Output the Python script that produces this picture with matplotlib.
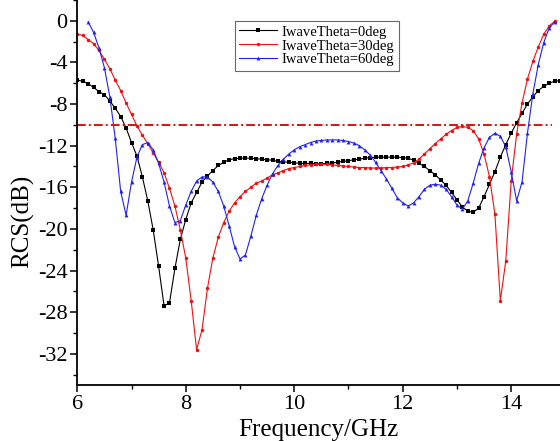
import matplotlib
matplotlib.use("Agg")
import matplotlib.pyplot as plt
from matplotlib.ticker import MultipleLocator

plt.rcParams["font.family"] = ["Liberation Serif", "DejaVu Serif"]
plt.rcParams["axes.unicode_minus"] = False

# frequency grid (GHz)
freq = [6.0, 6.1, 6.2, 6.3, 6.4, 6.5, 6.6, 6.7, 6.8, 6.9,
        7.0, 7.1, 7.2, 7.3, 7.4, 7.5, 7.6, 7.7, 7.8, 7.9,
        8.0, 8.1, 8.2, 8.3, 8.4, 8.5, 8.6, 8.7, 8.8, 8.9,
        9.0, 9.1, 9.2, 9.3, 9.4, 9.5, 9.6, 9.7, 9.8, 9.9,
        10.0, 10.1, 10.2, 10.3, 10.4, 10.5, 10.6, 10.7, 10.8, 10.9,
        11.0, 11.1, 11.2, 11.3, 11.4, 11.5, 11.6, 11.7, 11.8, 11.9,
        12.0, 12.1, 12.2, 12.3, 12.4, 12.5, 12.6, 12.7, 12.8, 12.9,
        13.0, 13.1, 13.2, 13.3, 13.4, 13.5, 13.6, 13.7, 13.8, 13.9,
        14.0, 14.1, 14.2, 14.3, 14.4, 14.5, 14.6, 14.7, 14.8, 14.9]

# theta = 0 deg, 6.0 .. 14.9 GHz
rcs_0deg = [-5.7, -5.8, -6.05, -6.4, -6.8, -7.1, -7.7, -8.4, -9.2, -10.3,
            -11.7, -13.0, -15.0, -17.3, -20.1, -23.6, -27.4, -27.1, -23.8, -21.0,
            -19.1, -17.5, -16.5, -15.5, -14.9, -14.4, -13.9, -13.6, -13.35, -13.25,
            -13.2, -13.2, -13.2, -13.25, -13.3, -13.35, -13.4, -13.5, -13.55, -13.6,
            -13.65, -13.7, -13.7, -13.7, -13.75, -13.75, -13.7, -13.65, -13.6, -13.5,
            -13.45, -13.35, -13.3, -13.2, -13.15, -13.1, -13.1, -13.1, -13.1, -13.1,
            -13.15, -13.2, -13.4, -13.7, -14.0, -14.4, -14.8, -15.3, -15.8, -16.5,
            -17.2, -17.9, -18.3, -18.4, -18.0, -16.9, -15.7, -14.5, -13.1, -11.9,
            -10.8, -9.8, -8.9, -8.0, -7.3, -6.7, -6.3, -6.0, -5.8, -5.75]

# theta = 30 deg, 6.0 .. 14.8 GHz
rcs_30deg = [-1.3, -1.4, -1.8, -2.2, -2.85, -3.7, -4.6, -5.7, -6.7, -7.9,
             -9.0, -10.1, -11.0, -11.8, -12.7, -13.6, -14.6, -16.1, -17.8, -20.1,
             -22.8, -26.9, -31.6, -29.7, -25.7, -22.8, -20.8, -19.4, -18.3, -17.5,
             -16.9, -16.4, -16.0, -15.6, -15.4, -15.1, -14.8, -14.6, -14.4, -14.2,
             -14.1, -14.0, -13.9, -13.85, -13.8, -13.8, -13.8, -13.85, -13.9, -13.95,
             -14.0, -14.05, -14.1, -14.1, -14.15, -14.15, -14.15, -14.1, -14.1, -14.05,
             -14.0, -13.85, -13.65, -13.3, -12.8, -12.3, -11.8, -11.35, -10.9, -10.55,
             -10.25, -10.15, -10.25, -10.55, -11.35, -12.8, -15.0, -18.6, -26.9, -23.1,
             -15.4, -10.9, -7.9, -5.6, -3.9, -2.5, -1.3, -0.5, -0.05]

# theta = 60 deg, 6.2 .. 14.8 GHz
rcs_60deg = [-0.1, -1.1, -2.6, -4.5, -7.3, -11.3, -16.4, -18.7,
             -15.5, -13.1, -11.9, -11.7, -12.4, -13.7, -15.5, -17.8, -19.4, -19.2,
             -17.7, -16.4, -15.4, -15.0, -15.0, -15.5, -16.4, -17.8, -19.7, -21.7,
             -22.9, -22.5, -20.7, -18.7, -17.1, -15.8, -14.7, -13.9, -13.3, -12.8,
             -12.4, -12.1, -11.9, -11.7, -11.55, -11.5, -11.45, -11.45, -11.45, -11.5,
             -11.6, -11.75, -12.0, -12.4, -12.9, -13.6, -14.4, -15.2, -16.1, -17.0,
             -17.5, -17.8, -17.5, -16.9, -16.2, -15.8, -15.7, -15.8, -16.2, -16.9,
             -17.7, -18.1, -17.3, -15.6, -13.7, -12.2, -11.2, -10.8, -11.1, -12.1,
             -14.5, -17.3, -15.5, -10.8, -7.0, -4.2, -2.1, -0.7, -0.1]

labels = ["IwaveTheta=0deg", "IwaveTheta=30deg", "IwaveTheta=60deg"]
threshold = -10
threshold_span = [6.0, 14.75]

fig = plt.figure(figsize=(5.6, 4.41), dpi=100)
ax = fig.add_axes([0.138, 0.127, 0.862, 0.873])

ax.plot(freq, rcs_0deg, color="black", marker="s", markersize=2.2,
        markeredgewidth=0, linewidth=0.8, label=labels[0])
ax.plot(freq[:len(rcs_30deg)], rcs_30deg, color="#ee1111", marker="o",
        markersize=2.5, markeredgewidth=0, linewidth=0.8, label=labels[1])
ax.plot(freq[2:2 + len(rcs_60deg)], rcs_60deg, color="#2222ee", marker="^",
        markersize=2.8, markeredgewidth=0, linewidth=0.8, label=labels[2])

ax.plot(threshold_span, [threshold, threshold], color="#d41414",
        linewidth=1.4, dashes=(4.5, 1.6, 1.0, 1.6))

ax.set_xlim(6, 14.9)
ax.set_ylim(-35, 2.0)
ax.xaxis.set_major_locator(MultipleLocator(2))
ax.xaxis.set_minor_locator(MultipleLocator(1))
ax.yaxis.set_major_locator(MultipleLocator(4))
ax.yaxis.set_minor_locator(MultipleLocator(2))
ax.set_yticks([0, -4, -8, -12, -16, -20, -24, -28, -32])

ax.spines["top"].set_visible(False)
ax.spines["right"].set_visible(False)
for side in ("left", "bottom"):
    ax.spines[side].set_linewidth(1.3)

ax.tick_params(which="major", direction="out", length=5, width=1.1,
               labelsize=16, pad=2)
ax.tick_params(which="minor", direction="out", length=3, width=1.0)

ax.set_xlabel("Frequency/GHz", fontsize=18)
ax.set_ylabel("RCS(dB)", fontsize=18, va="center")
ax.xaxis.set_label_coords(0.5, -0.089)
ax.yaxis.set_label_coords(-0.114, 0.426)

leg = ax.legend(loc="upper left", bbox_to_anchor=(235 / 560, 1 - 21 / 441),
                bbox_transform=fig.transFigure, fontsize=10.5, frameon=True,
                fancybox=False, borderaxespad=0, borderpad=0.3,
                labelspacing=0.05, handlelength=2.6, handletextpad=0.3)
leg.get_frame().set_edgecolor("#444444")
leg.get_frame().set_linewidth(0.8)

fig.savefig("out.png", dpi=100)
